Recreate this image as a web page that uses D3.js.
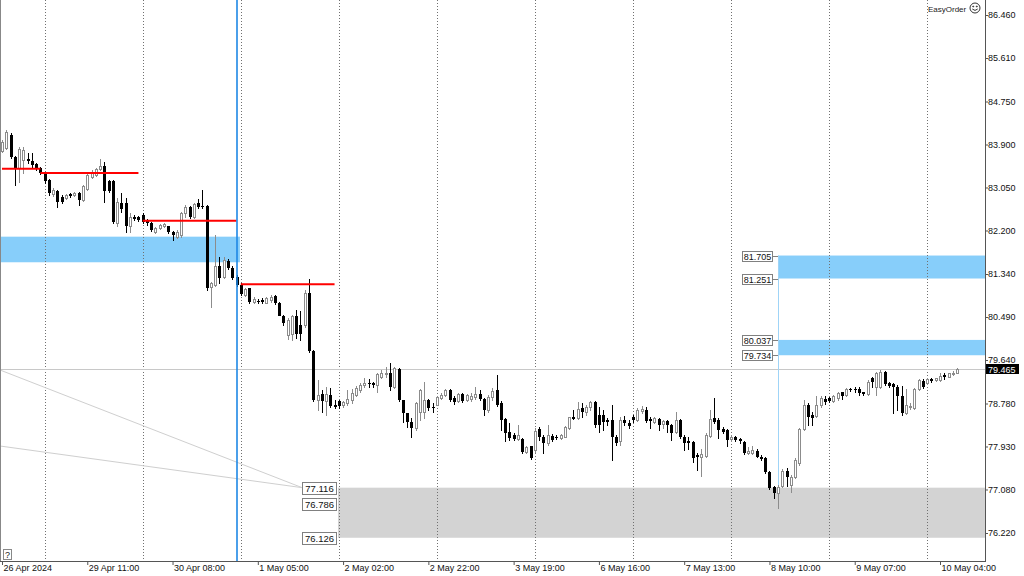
<!DOCTYPE html>
<html><head><meta charset="utf-8">
<script src="https://cdnjs.cloudflare.com/ajax/libs/d3/7.8.5/d3.min.js"></script>
<style>
html,body{margin:0;padding:0;background:#fff;}
svg{display:block;font-family:"Liberation Sans",Arial,sans-serif;}
</style></head><body>
<svg id="c" width="1024" height="576"></svg>
<script>
// ---- DATA (H1 candles) ----
const opens=[83.78,83.83,84.09,83.66,83.43,83.59,83.61,83.58,83.52,83.43,
83.33,83.20,82.92,82.99,82.87,82.85,82.92,82.90,82.95,82.80,
83.03,83.26,83.30,83.41,83.48,83.18,83.17,82.34,82.75,82.75,
82.28,82.46,82.47,82.51,82.41,82.34,82.18,82.24,82.28,82.28,
82.18,82.08,82.11,82.54,82.67,82.47,82.74,82.68,82.68,81.09,
81.12,81.49,81.29,81.60,81.45,81.29,81.13,80.93,81.06,80.79,
80.81,80.83,80.77,80.83,80.91,80.77,80.51,80.14,80.15,80.50,
80.33,80.33,80.97,79.82,78.85,78.96,78.82,78.95,78.75,78.82,
78.75,78.78,78.85,78.95,79.05,79.15,79.18,79.19,79.15,79.31,
79.36,79.39,79.11,79.46,78.85,78.59,78.42,78.29,78.62,78.62,
78.85,78.72,78.76,78.88,78.95,79.05,78.88,78.82,78.97,78.84,
78.86,78.90,78.97,78.86,78.65,78.90,79.05,78.78,78.47,78.22,
78.16,78.07,78.07,77.83,77.93,77.86,78.27,78.12,77.99,78.14,
78.12,78.09,78.12,78.29,78.51,78.49,78.69,78.62,78.72,78.80,
78.55,78.55,78.45,78.45,78.12,78.03,78.45,78.39,78.52,78.45,
78.64,78.65,78.47,78.42,78.47,78.38,78.44,78.36,78.22,78.45,
78.12,78.03,78.01,77.76,77.72,77.74,78.14,78.49,78.45,78.27,
78.26,78.07,78.12,78.07,78.01,77.80,77.81,77.85,77.73,77.70,
77.43,77.12,77.01,77.14,77.45,77.17,77.33,77.60,78.27,78.75,
78.55,78.53,78.75,78.86,78.88,78.82,78.88,79.00,78.95,79.06,
79.07,79.06,79.00,78.97,79.28,79.11,79.10,79.41,79.18,79.17,
79.10,78.92,78.59,78.71,78.69,79.06,79.23,79.18,79.26,79.25,
79.25,79.35,79.31,79.36,79.39];
const highs=[83.99,84.19,84.13,83.67,83.86,83.85,83.73,83.73,83.54,83.46,
83.36,83.22,83.04,83.00,82.90,82.92,82.94,82.97,82.96,83.10,
83.34,83.40,83.44,83.61,83.56,83.20,83.20,82.84,82.94,82.84,
82.54,82.51,82.49,82.54,82.43,82.37,82.27,82.33,82.34,82.29,
82.19,82.21,82.57,82.70,82.68,82.74,82.82,83.00,82.70,81.18,
82.11,81.68,81.68,81.64,81.50,81.32,81.16,81.06,81.06,80.88,
80.85,80.87,80.89,80.93,80.93,80.79,80.53,80.47,80.53,80.63,
80.60,81.02,81.24,79.84,79.25,79.05,79.11,79.08,78.85,78.85,
78.82,79.05,79.06,79.13,79.18,79.28,79.26,79.21,79.38,79.44,
79.50,79.58,79.50,79.48,78.85,78.59,78.49,78.80,79.07,79.21,
78.86,78.78,78.93,78.98,79.06,79.06,78.92,78.98,78.99,78.97,
78.98,79.11,79.05,78.88,78.95,79.08,79.34,78.82,78.49,78.39,
78.19,78.36,78.09,77.94,77.94,78.29,78.31,78.16,78.36,78.18,
78.16,78.18,78.34,78.52,78.65,78.80,78.78,78.75,78.82,78.82,
78.72,78.65,78.49,78.75,78.16,78.52,78.53,78.45,78.55,78.70,
78.73,78.72,78.52,78.52,78.49,78.45,78.45,78.38,78.62,78.47,
78.16,78.12,78.03,77.80,77.89,78.19,78.65,78.88,78.49,78.31,
78.27,78.16,78.14,78.09,78.03,77.92,77.93,77.88,77.76,77.72,
77.45,77.15,77.17,77.48,77.50,77.37,77.70,78.29,78.85,78.78,
78.62,78.92,78.92,78.92,78.91,78.95,79.01,79.01,79.08,79.09,
79.10,79.10,79.01,79.25,79.31,79.41,79.44,79.43,79.21,79.19,
79.15,79.13,79.06,78.78,79.08,79.26,79.26,79.28,79.28,79.29,
79.38,79.38,79.39,79.42,79.48];
const lows=[83.75,83.81,83.64,83.10,83.16,83.34,83.53,83.46,83.40,83.32,
83.14,82.90,82.88,82.67,82.74,82.82,82.86,82.88,82.70,82.78,
83.00,83.24,83.28,83.40,82.77,82.96,82.34,82.28,82.57,82.18,
82.18,82.41,82.39,82.35,82.31,82.19,82.15,82.23,82.26,82.15,
82.01,82.05,82.08,82.47,82.45,82.45,82.64,82.64,81.02,80.69,
81.10,81.16,81.26,81.44,81.24,81.10,80.93,80.91,80.77,80.77,
80.77,80.77,80.76,80.79,80.75,80.52,80.33,80.05,80.04,80.08,
80.04,80.30,79.79,78.82,78.65,78.62,78.55,78.72,78.69,78.69,
78.72,78.75,78.78,78.92,79.01,79.11,79.11,79.11,79.01,79.28,
79.31,79.05,79.08,78.82,78.42,78.32,78.12,78.26,78.45,78.49,
78.65,78.62,78.75,78.86,78.92,78.82,78.77,78.80,78.80,78.82,
78.82,78.86,78.85,78.55,78.62,78.85,78.74,78.26,78.03,78.06,
78.05,78.06,77.80,77.80,77.68,77.83,78.06,77.80,77.96,78.03,
78.08,78.08,78.11,78.28,78.47,78.47,78.52,78.55,78.65,78.32,
78.22,78.26,78.36,77.66,77.96,77.96,78.36,78.29,78.42,78.44,
78.60,78.42,78.29,78.39,78.26,78.29,78.22,78.05,78.20,78.09,
77.86,77.88,77.63,77.47,77.35,77.73,78.12,78.40,78.09,78.19,
77.93,78.03,78.04,77.99,77.78,77.78,77.78,77.72,77.66,77.41,
77.08,76.91,76.71,77.12,77.14,77.04,77.30,77.56,78.26,78.36,
78.36,78.52,78.72,78.77,78.80,78.80,78.85,78.86,78.92,79.03,
79.01,78.95,78.95,78.95,79.11,78.95,79.08,79.15,79.10,78.59,
78.65,78.55,78.57,78.67,78.67,79.05,79.08,79.17,79.21,79.23,
79.23,79.26,79.30,79.34,79.38];
const closes=[83.94,84.15,83.66,83.43,83.81,83.79,83.58,83.50,83.41,83.33,
83.17,82.94,83.00,82.77,82.77,82.90,82.88,82.95,82.80,83.07,
83.30,83.36,83.41,83.48,82.99,82.99,82.37,82.77,82.62,82.28,
82.46,82.43,82.41,82.37,82.34,82.21,82.24,82.31,82.32,82.18,
82.11,82.18,82.54,82.67,82.47,82.72,82.66,82.66,81.06,81.16,
81.49,81.26,81.62,81.45,81.26,81.12,80.94,81.04,80.79,80.84,
80.79,80.79,80.86,80.89,80.76,80.50,80.38,80.43,80.50,80.15,
80.15,80.97,79.82,78.85,78.95,78.82,78.96,78.73,78.72,78.73,
78.80,78.86,78.98,79.08,79.15,79.19,79.16,79.15,79.36,79.38,
79.39,79.11,79.48,78.85,78.59,78.42,78.29,78.78,79.05,78.85,
78.69,78.69,78.90,78.95,79.05,78.85,78.80,78.97,78.82,78.95,
78.93,78.97,78.86,78.65,78.90,79.03,78.75,78.45,78.19,78.09,
78.07,78.16,77.83,77.92,77.70,78.24,78.12,77.99,78.16,78.06,
78.09,78.16,78.32,78.51,78.48,78.67,78.62,78.72,78.80,78.36,
78.36,78.42,78.42,78.12,77.99,78.45,78.40,78.34,78.45,78.65,
78.67,78.44,78.44,78.49,78.36,78.44,78.36,78.20,78.45,78.12,
77.99,77.99,77.70,77.73,77.78,78.16,78.47,78.42,78.26,78.22,
78.06,78.12,78.05,78.03,77.80,77.85,77.86,77.73,77.68,77.43,
77.10,77.01,77.12,77.45,77.33,77.33,77.66,78.27,78.75,78.52,
78.49,78.75,78.88,78.80,78.82,78.93,78.98,78.92,79.06,79.05,
79.05,78.98,78.97,79.21,79.21,79.38,79.41,79.17,79.13,79.10,
78.92,78.59,78.75,78.73,79.06,79.25,79.10,79.26,79.23,79.28,
79.32,79.30,79.38,79.38,79.465];

const priceTicks=[86.460,85.610,84.750,83.900,83.050,82.200,81.340,80.490,79.640,78.780,77.930,77.080,76.220];
const timeTickBars=[0,20,40,60,80,100,120,140,160,180,200,220];
const timeTickLabels=["26 Apr 2024","29 Apr 11:00","30 Apr 08:00","1 May 05:00","2 May 02:00","2 May 22:00","3 May 19:00","6 May 16:00","7 May 13:00","8 May 10:00","9 May 07:00","10 May 04:00"];
const gridBars=[10,33,56,79,102,125,148,171,194,217];
const currentPrice=79.465;
const redLevels=[{from:0,to:9,price:83.422},{from:9,to:32,price:83.337},{from:33,to:55,price:82.394},{from:56,to:78,price:81.137}];
const blueZones=[{from:-0.5,to:55.8,top:82.078,bottom:81.572},{from:182,to:232,top:81.705,bottom:81.251},{from:182,to:232,top:80.037,bottom:79.734}];
const greyZone={from:78.8,to:232,top:77.116,bottom:76.126};
const rightLabels=[81.705,81.251,80.037,79.734];
const greyLabels=[77.116,76.786,76.126];
const cursorBar=55;
const zoneLineBar=182;
const trendLines=[{b1:-0.5,p1:79.443,b2:70.4,p2:77.116},{b1:-0.5,p1:77.94,b2:70.4,p2:77.116}];

// ---- SCALES ----
const PR=985,PB=561;
const FONT='"Liberation Sans",Arial,sans-serif';
const x=d3.scaleLinear().domain([0,220]).range([2,940]);
const y=d3.scaleLinear().domain([76.22,86.46]).range([533,15]);
const svg=d3.select('#c');
svg.append('defs').append('clipPath').attr('id','clip').append('rect').attr('x',0).attr('y',0).attr('width',PR).attr('height',PB);
const plot=svg.append('g').attr('clip-path','url(#clip)');

// zones
plot.selectAll('rect.bz').data(blueZones).join('rect').attr('class','bz')
 .attr('x',d=>x(d.from)).attr('width',d=>Math.min(x(d.to),PR)-x(d.from))
 .attr('y',d=>y(d.top)).attr('height',d=>y(d.bottom)-y(d.top)).attr('fill','#87cefa');
plot.append('rect').attr('x',x(greyZone.from)).attr('width',PR-x(greyZone.from))
 .attr('y',y(greyZone.top)).attr('height',y(greyZone.bottom)-y(greyZone.top)).attr('fill','#d3d3d3');

// grid
plot.selectAll('line.grid').data(gridBars).join('line').attr('class','grid')
 .attr('x1',d=>Math.round(x(d))+0.5).attr('x2',d=>Math.round(x(d))+0.5).attr('y1',0).attr('y2',PB)
 .attr('stroke','#707070').attr('stroke-dasharray','1,2');

// current price line
plot.append('line').attr('x1',0).attr('x2',PR).attr('y1',Math.round(y(currentPrice))+0.5).attr('y2',Math.round(y(currentPrice))+0.5).attr('stroke','#c8c8c8');

// trend lines
plot.selectAll('line.tl').data(trendLines).join('line').attr('class','tl')
 .attr('x1',d=>x(d.b1)).attr('y1',d=>y(d.p1)).attr('x2',d=>x(d.b2)).attr('y2',d=>y(d.p2))
 .attr('stroke','#cfcfcf').attr('stroke-width',1);

// light blue vertical line
plot.append('line').attr('x1',Math.round(x(zoneLineBar))+0.5).attr('x2',Math.round(x(zoneLineBar))+0.5)
 .attr('y1',y(rightLabels[0])).attr('y2',y(greyZone.top)).attr('stroke','#9fd4f7');

// candles
const bars=d3.range(closes.length).map(i=>({i,o:opens[i],h:highs[i],l:lows[i],c:closes[i],bull:closes[i]>=opens[i]}));
const cg=plot.append('g').attr('shape-rendering','crispEdges');
const cs=cg.selectAll('g').data(bars).join('g');
cs.append('line')
 .attr('x1',d=>Math.round(x(d.i))+0.5).attr('x2',d=>Math.round(x(d.i))+0.5)
 .attr('y1',d=>Math.round(y(d.h))).attr('y2',d=>Math.round(y(d.l))+1)
 .attr('stroke',d=>d.bull?'#8c8c8c':'#000');
cs.append('rect')
 .attr('x',d=>d.bull?Math.round(x(d.i))-0.5:Math.round(x(d.i))-1)
 .attr('width',d=>d.bull?2:3)
 .attr('y',d=>Math.round(y(Math.max(d.o,d.c)))+(d.bull?0.5:0))
 .attr('height',d=>Math.max(1,Math.round(y(Math.min(d.o,d.c)))-Math.round(y(Math.max(d.o,d.c)))))
 .attr('fill',d=>d.bull?'#fff':'#000')
 .attr('stroke',d=>d.bull?'#8c8c8c':'none');

// red levels
plot.selectAll('line.red').data(redLevels).join('line').attr('class','red')
 .attr('x1',d=>x(d.from)).attr('x2',d=>x(d.to)).attr('y1',d=>y(d.price)).attr('y2',d=>y(d.price))
 .attr('stroke','#ff0000').attr('stroke-width',2);

// blue cursor line
plot.append('line').attr('x1',Math.round(x(cursorBar))).attr('x2',Math.round(x(cursorBar))).attr('y1',0).attr('y2',PB)
 .attr('stroke','#1e88e5').attr('stroke-width',1.6);

// right zone labels
const rl=svg.selectAll('g.rl').data(rightLabels).join('g').attr('class','rl')
 .attr('transform',d=>`translate(${Math.round(x(zoneLineBar))-36},${Math.round(y(d))})`);
rl.append('line').attr('x1',30).attr('x2',36).attr('y1',0.5).attr('y2',0.5).attr('stroke','#808080');
rl.append('rect').attr('x',0.5).attr('y',-4.5).attr('width',30).attr('height',10).attr('fill','#fff').attr('stroke','#808080');
rl.append('text').attr('x',15.5).attr('y',4).attr('text-anchor','middle').attr('font-size','9px').attr('fill','#111').text(d=>d3.format('.3f')(d));

// grey zone labels
const gl=svg.selectAll('g.gl').data(greyLabels).join('g').attr('class','gl')
 .attr('transform',d=>`translate(${Math.round(x(greyZone.from))-36},${Math.round(y(d))})`);
gl.append('rect').attr('x',0.5).attr('y',-5.5).attr('width',34).attr('height',12).attr('fill','#fff').attr('stroke','#808080');
gl.append('text').attr('x',17.5).attr('y',4).attr('text-anchor','middle').attr('font-size','9.5px').attr('fill','#111').text(d=>d3.format('.3f')(d));

// frame
svg.append('line').attr('x1',PR+0.5).attr('x2',PR+0.5).attr('y1',0).attr('y2',PB+1).attr('stroke','#555');
svg.append('line').attr('x1',0).attr('x2',PR+1).attr('y1',PB+0.5).attr('y2',PB+0.5).attr('stroke','#555');
svg.append('line').attr('x1',0.5).attr('x2',0.5).attr('y1',0).attr('y2',PB).attr('stroke','#888');

// axes
const ay=svg.append('g').attr('transform',`translate(${PR},0)`)
 .call(d3.axisRight(y).tickValues(priceTicks).tickFormat(d3.format('.3f')).tickSize(3).tickSizeOuter(0).tickPadding(0));
ay.select('.domain').remove();
ay.selectAll('line').attr('stroke','#555');
ay.selectAll('text').attr('font-size','9px').attr('fill','#111').attr('font-family',FONT);

const ax=svg.append('g').attr('transform',`translate(0,${PB})`)
 .call(d3.axisBottom(x).tickValues(timeTickBars).tickFormat((d,i)=>timeTickLabels[i]).tickSize(4).tickSizeOuter(0).tickPadding(0));
ax.select('.domain').remove();
ax.selectAll('line').attr('stroke','#555');
ax.selectAll('text').attr('text-anchor','start').attr('dx',1).attr('font-size','9px').attr('fill','#111').attr('font-family',FONT);

// current price tag
const yc=Math.round(y(currentPrice));
svg.append('rect').attr('x',986).attr('y',yc-5).attr('width',33).attr('height',10).attr('fill','#000');
svg.append('text').attr('x',988).attr('y',yc+3.5).attr('font-size','9px').attr('fill','#fff').text(d3.format('.3f')(currentPrice));

// EasyOrder
svg.append('text').attr('x',928).attr('y',11.5).attr('font-size','8px').attr('fill','#222').text('EasyOrder');
const sm=svg.append('g').attr('transform','translate(975,8)').attr('fill','none').attr('stroke','#333');
sm.append('circle').attr('r',5);
sm.append('circle').attr('cx',-1.8).attr('cy',-1.5).attr('r',0.5).attr('fill','#333');
sm.append('circle').attr('cx',1.8).attr('cy',-1.5).attr('r',0.5).attr('fill','#333');
sm.append('path').attr('d','M-2.7,1 Q0,3.8 2.7,1');

// ? box
svg.append('rect').attr('x',3.5).attr('y',549.5).attr('width',8).attr('height',10).attr('fill','#fff').attr('stroke','#888');
svg.append('text').attr('x',7.5).attr('y',558).attr('text-anchor','middle').attr('font-size','9px').attr('fill','#222').text('?');
</script></body></html>
